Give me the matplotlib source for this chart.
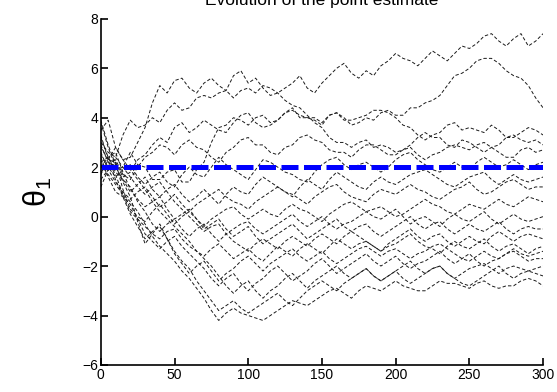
import numpy as np
import matplotlib
matplotlib.use('Agg')
import matplotlib.pyplot as plt

plt.rcParams['font.family'] = ['Liberation Sans', 'DejaVu Sans']
plt.rcParams['mathtext.fontset'] = 'custom'
plt.rcParams['mathtext.rm'] = 'Liberation Sans'
plt.rcParams['mathtext.it'] = 'Liberation Sans'

# iteration index of the read-off vertices (every 5 steps)
steps = np.arange(0, 301, 5)
true_value = 2.0

# point estimate trajectories
traj_a = [3.5, 3.9, 2.8, 2.3, 2.4, 3.0, 3.6, 4.6, 5.3, 5.0, 5.5, 5.6, 5.2, 5.0, 5.4, 5.6, 5.3, 5.1, 5.7, 5.9,
          5.4, 5.6, 5.2, 4.9, 5.0, 5.2, 5.4, 5.7, 5.2, 5.0, 5.4, 5.7, 6.0, 6.2, 5.8, 5.6, 5.9, 5.7, 6.1, 6.3,
          6.6, 6.4, 6.3, 6.1, 6.4, 6.7, 6.5, 6.3, 6.6, 6.9, 6.8, 7.0, 7.3, 7.4, 7.1, 6.9, 7.2, 7.4, 6.9, 7.1, 7.4]
traj_b = [2.8, 2.3, 2.2, 1.6, 1.8, 2.3, 2.5, 2.9, 3.2, 3.0, 3.6, 3.8, 3.4, 3.6, 3.9, 3.7, 3.5, 3.4, 3.8, 4.1,
          4.2, 3.8, 3.6, 3.7, 3.9, 4.2, 4.4, 4.0, 4.0, 3.9, 3.7, 4.1, 4.2, 4.0, 3.7, 3.8, 4.0, 3.9, 4.2, 4.3,
          4.1, 4.1, 4.4, 4.4, 4.6, 4.7, 4.9, 5.3, 5.7, 5.8, 6.0, 6.3, 6.4, 6.4, 6.2, 5.9, 5.7, 5.6, 5.3, 4.8, 4.4]
traj_c = [2.2, 2.4, 1.9, 2.0, 2.6, 2.1, 2.0, 1.5, 1.5, 1.8, 1.9, 1.4, 1.4, 1.9, 2.2, 3.0, 3.6, 3.7, 4.0, 3.9,
          3.7, 4.0, 4.1, 3.8, 3.9, 4.2, 4.3, 4.1, 4.0, 4.0, 3.8, 4.1, 4.2, 3.9, 3.9, 4.0, 4.1, 4.3, 4.3, 4.2,
          4.0, 3.7, 3.6, 3.3, 3.1, 3.3, 3.4, 3.7, 3.8, 3.5, 3.6, 3.5, 3.4, 3.7, 3.5, 3.2, 3.2, 3.4, 3.6, 3.5, 3.3]
traj_d = [3.0, 2.6, 2.4, 3.3, 3.9, 3.6, 3.7, 4.0, 3.8, 4.3, 4.6, 4.3, 4.4, 4.8, 4.9, 4.8, 5.0, 5.1, 4.8, 5.1,
          5.2, 5.0, 5.3, 5.2, 5.0, 4.7, 4.5, 4.4, 4.1, 3.8, 3.6, 3.2, 3.0, 3.0, 2.8, 3.0, 3.1, 2.8, 2.9, 2.8,
          2.6, 2.7, 2.9, 3.2, 3.4, 3.2, 3.2, 2.9, 2.8, 3.1, 3.0, 2.8, 2.6, 2.8, 2.9, 3.2, 3.3, 3.1, 3.0, 3.1, 2.9]
traj_e = [1.8, 2.1, 2.3, 1.7, 1.5, 2.0, 2.4, 2.6, 2.9, 2.8, 2.5, 2.9, 3.1, 2.8, 2.7, 2.4, 2.2, 2.6, 2.8, 3.1,
          3.2, 2.9, 2.9, 2.6, 2.5, 2.8, 2.9, 3.2, 3.3, 3.1, 3.0, 2.7, 2.6, 2.6, 2.4, 2.7, 2.9, 2.9, 2.7, 2.5,
          2.5, 2.7, 2.8, 2.5, 2.3, 2.5, 2.6, 2.8, 2.9, 2.8, 2.7, 2.9, 3.0, 2.8, 2.6, 2.4, 2.4, 2.7, 2.8, 2.6, 2.7]
traj_f = [2.5, 2.0, 1.6, 1.9, 2.1, 1.6, 1.3, 1.6, 1.8, 1.4, 1.2, 1.7, 2.0, 1.7, 1.6, 2.0, 2.4, 2.1, 1.9, 1.7,
          1.5, 1.9, 2.3, 2.2, 2.0, 1.8, 1.7, 1.5, 1.4, 1.8, 2.1, 2.3, 2.4, 2.1, 1.9, 2.1, 2.2, 2.0, 1.8, 2.0,
          2.3, 2.5, 2.6, 2.3, 2.1, 1.9, 1.8, 2.0, 2.2, 2.0, 1.9, 2.2, 2.4, 2.2, 2.0, 2.1, 2.3, 2.1, 1.9, 2.1, 2.2]
traj_g = [3.8, 2.8, 2.0, 1.5, 1.0, 1.3, 1.6, 1.1, 0.8, 1.1, 1.3, 0.9, 0.6, 0.8, 1.1, 0.8, 0.5, 0.9, 1.2, 1.0,
          0.9, 1.3, 1.6, 1.4, 1.2, 1.0, 0.8, 1.2, 1.5, 1.3, 1.1, 1.5, 1.8, 1.6, 1.4, 1.2, 1.1, 1.4, 1.6, 1.4,
          1.3, 1.5, 1.7, 1.8, 1.9, 1.7, 1.5, 1.3, 1.2, 1.4, 1.6, 1.7, 1.8, 1.5, 1.3, 1.5, 1.7, 1.5, 1.4, 1.5, 1.6]
traj_h = [2.6, 1.9, 1.4, 1.0, 0.7, 1.0, 1.2, 0.8, 0.4, 0.6, 0.9, 0.5, 0.2, 0.5, 0.7, 0.9, 1.1, 0.8, 0.6, 0.5,
          0.3, 0.6, 0.8, 1.0, 1.2, 1.0, 0.9, 0.7, 0.5, 0.8, 1.0, 1.2, 1.3, 1.0, 0.8, 0.7, 0.6, 0.9, 1.1, 1.0,
          0.9, 1.1, 1.3, 1.1, 1.0, 0.8, 0.7, 0.9, 1.1, 1.2, 1.4, 1.1, 0.9, 1.0, 1.2, 1.4, 1.5, 1.3, 1.1, 1.2, 1.2]
traj_i = [1.5, 1.9, 2.2, 1.1, 0.3, 0.0, -0.2, 0.2, 0.5, 0.1, -0.3, 0.0, 0.2, -0.1, -0.4, -0.1, 0.1, 0.3, 0.4, 0.1,
          -0.1, 0.1, 0.3, 0.1, 0.0, 0.3, 0.5, 0.3, 0.2, 0.0, -0.2, 0.1, 0.3, 0.5, 0.6, 0.4, 0.2, 0.3, 0.4, 0.2,
          0.0, 0.1, 0.3, 0.5, 0.7, 0.5, 0.4, 0.2, 0.1, 0.3, 0.5, 0.4, 0.3, 0.5, 0.7, 0.5, 0.4, 0.6, 0.8, 0.7, 0.6]
traj_j = [3.2, 2.4, 1.8, 1.5, 1.2, 0.6, 0.2, -0.3, -0.6, -0.3, -0.1, -0.5, -0.8, -0.5, -0.3, -0.7, -1.0, -0.7,
          -0.5, -0.3, -0.2, -0.5, -0.7, -0.5, -0.3, -0.1, 0.1, -0.2, -0.4, -0.2, 0.0, -0.3, -0.5, -0.3, -0.2,
          0.0, 0.2, 0.0, -0.1, 0.1, 0.3, 0.0, -0.3, -0.1, 0.0, -0.2, -0.4, -0.1, 0.1, -0.1, -0.2, 0.0, 0.2, -0.1,
          -0.3, -0.1, 0.1, -0.1, -0.2, -0.1, 0.0]
traj_k = [2.0, 2.4, 2.6, 1.8, 1.1, 0.7, 0.4, 0.6, 0.8, 0.3, -0.1, 0.1, 0.3, -0.1, -0.5, -0.3, -0.1, -0.5, -0.8,
          -0.6, -0.4, -0.8, -1.1, -0.9, -0.7, -0.5, -0.3, -0.6, -0.9, -0.7, -0.5, -0.3, -0.1, -0.4, -0.6, -0.4,
          -0.3, -0.6, -0.8, -0.6, -0.4, -0.2, 0.0, -0.3, -0.5, -0.3, -0.2, -0.5, -0.7, -0.5, -0.3, -0.5, -0.6,
          -0.4, -0.2, -0.5, -0.7, -0.5, -0.4, -0.5, -0.5]
traj_l = [1.2, 1.9, 2.4, 2.0, 1.6, 1.2, 0.9, 1.2, 1.4, 1.0, 0.6, 0.3, 0.0, -0.3, -0.6, -0.4, -0.3, -0.7, -1.0,
          -1.2, -1.4, -1.1, -0.9, -1.1, -1.3, -1.0, -0.8, -1.0, -1.2, -0.9, -0.7, -0.9, -1.1, -0.8, -0.6, -0.8,
          -1.0, -1.2, -1.4, -1.1, -0.9, -0.7, -0.5, -0.8, -1.0, -0.8, -0.7, -1.0, -1.2, -1.0, -0.8, -1.0, -1.1,
          -0.8, -0.6, -0.8, -1.0, -0.8, -0.7, -0.8, -0.9]
traj_m = [2.9, 2.2, 1.7, 0.9, 0.2, -0.1, -0.4, -0.7, -0.9, -0.6, -0.5, -0.9, -1.2, -1.4, -1.6, -1.3, -1.1, -1.4,
          -1.7, -1.5, -1.3, -1.6, -1.8, -1.5, -1.2, -1.4, -1.6, -1.3, -1.1, -1.3, -1.5, -1.2, -0.9, -1.1, -1.3,
          -1.1, -1.0, -1.2, -1.4, -1.2, -1.1, -0.9, -0.7, -1.0, -1.2, -1.3, -1.5, -1.2, -1.0, -1.2, -1.3, -1.1,
          -0.9, -1.2, -1.4, -1.2, -1.1, -1.3, -1.5, -1.3, -1.2]
traj_n = [3.9, 2.9, 2.1, 1.4, 0.8, -0.2, -1.1, -0.7, -0.3, -0.9, -1.5, -1.9, -2.3, -2.0, -1.8, -2.2, -2.6, -2.3,
          -2.1, -1.8, -1.6, -1.9, -2.2, -1.9, -1.7, -1.5, -1.3, -1.6, -1.8, -1.6, -1.4, -1.7, -1.9, -1.7, -1.5,
          -1.3, -1.2, -1.4, -1.6, -1.4, -1.3, -1.5, -1.7, -1.5, -1.4, -1.2, -1.1, -1.3, -1.5, -1.7, -1.8, -1.6,
          -1.4, -1.6, -1.7, -1.5, -1.3, -1.5, -1.6, -1.5, -1.4]
traj_o = [2.4, 1.6, 1.0, 0.8, 0.5, -0.1, -0.7, -1.0, -1.3, -1.0, -0.8, -1.2, -1.5, -1.8, -2.1, -2.5, -2.8, -2.5,
          -2.3, -2.7, -3.0, -2.7, -2.5, -2.2, -2.0, -2.3, -2.6, -2.4, -2.2, -1.9, -1.7, -2.0, -2.3, -2.1, -1.9,
          -1.7, -1.5, -1.8, -2.0, -1.8, -1.6, -1.9, -2.1, -1.9, -1.8, -1.6, -1.4, -1.7, -1.9, -1.7, -1.5, -1.8,
          -2.0, -1.8, -1.7, -1.5, -1.4, -1.6, -1.8, -1.7, -1.7]
traj_p = [1.7, 2.3, 2.8, 2.3, 1.9, 1.5, 1.1, 0.6, 0.2, -0.1, -0.4, -0.7, -1.0, -1.4, -1.7, -2.0, -2.4, -2.8, -3.1,
          -2.8, -2.6, -3.0, -3.3, -3.0, -2.8, -2.5, -2.3, -2.6, -2.9, -2.6, -2.4, -2.2, -2.0, -2.3, -2.5, -2.3,
          -2.1, -2.4, -2.6, -2.4, -2.2, -2.0, -1.8, -2.1, -2.3, -2.1, -2.0, -2.3, -2.5, -2.3, -2.1, -2.0, -1.9,
          -2.1, -2.3, -2.1, -2.0, -2.1, -2.2, -2.1, -2.0]
traj_q = [3.3, 2.3, 1.5, 0.8, 0.1, -0.4, -0.9, -0.6, -0.4, -0.9, -1.4, -1.8, -2.1, -2.6, -3.0, -3.4, -3.8, -3.6,
          -3.4, -3.7, -3.9, -3.7, -3.5, -3.3, -3.1, -3.4, -3.6, -3.3, -3.0, -2.8, -2.6, -2.8, -3.0, -2.7, -2.5,
          -2.3, -2.1, -2.4, -2.6, -2.4, -2.2, -2.5, -2.7, -2.5, -2.3, -2.1, -2.0, -2.3, -2.5, -2.7, -2.8, -2.6,
          -2.4, -2.2, -2.0, -2.3, -2.5, -2.3, -2.2, -2.3, -2.4]
traj_r = [2.1, 1.7, 1.3, 0.9, 0.6, 0.2, -0.3, -0.8, -1.2, -1.5, -1.8, -2.2, -2.5, -2.9, -3.3, -3.8, -4.2, -3.9,
          -3.7, -3.9, -4.0, -4.1, -4.2, -4.0, -3.8, -3.6, -3.4, -3.5, -3.6, -3.4, -3.2, -3.0, -2.9, -3.1, -3.3,
          -3.0, -2.8, -2.9, -3.0, -2.8, -2.6, -2.8, -2.9, -3.0, -3.0, -2.8, -2.6, -2.7, -2.7, -2.8, -2.9, -2.7,
          -2.6, -2.8, -2.9, -2.8, -2.8, -2.6, -2.5, -2.6, -2.8]

trajectories = [traj_a, traj_b, traj_c, traj_d, traj_e, traj_f, traj_g, traj_h, traj_i,
                traj_j, traj_k, traj_l, traj_m, traj_n, traj_o, traj_p, traj_q, traj_r]

fig = plt.figure(figsize=(5.57, 3.92), dpi=100)
ax = fig.add_axes([0.181, 0.069, 0.794, 0.883])

for tr in trajectories:
    ax.plot(steps, tr, color='0.1', lw=0.7, dashes=(3.5, 2.2))

ax.plot([steps[0], steps[-1]], [true_value, true_value], color='#0000ff', lw=3.6,
        dashes=(3.4, 1.1))

ax.set_xlim(0, 300)
ax.set_ylim(-6, 8)
ax.set_xticks(np.arange(0, 301, 50))
ax.set_yticks(np.arange(-6, 9, 2))
ax.spines['top'].set_visible(False)
ax.spines['right'].set_visible(False)
ax.spines['left'].set_linewidth(1.2)
ax.spines['bottom'].set_linewidth(1.2)
ax.tick_params(direction='in', length=5, width=1.2, labelsize=10, pad=2)

ax.set_ylabel('$\\mathrm{\u03b8}_1$', fontsize=22, labelpad=20)

# title sits at the top edge, cropped as in the original figure
fig.text(0.578, 1 - 5 / 392, 'Evolution of the point estimate', ha='center',
         va='baseline', fontsize=12.5)

fig.savefig('out.png', dpi=100)
